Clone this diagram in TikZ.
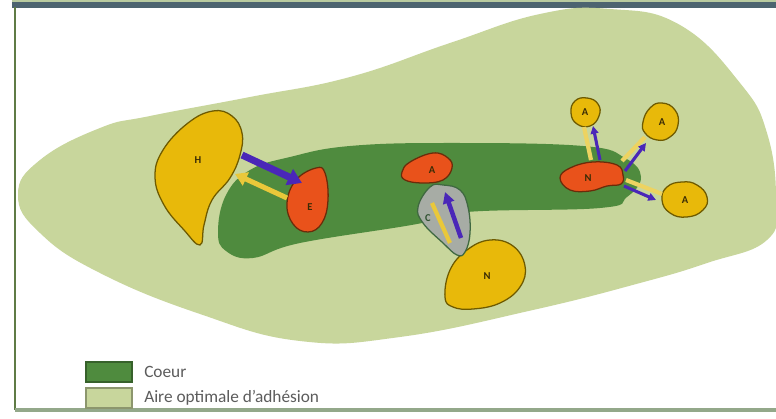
\documentclass[tikz,border=0pt]{standalone}
\usepackage{fontspec}
\setsansfont{Carlito}
\usetikzlibrary{arrows.meta,positioning}
\definecolor{ZoneGreen}{HTML}{C8D69C}
\definecolor{CoeurGreen}{HTML}{4F8B3E}
\definecolor{CoeurEdge}{HTML}{3E7030}
\definecolor{HostYellow}{HTML}{E8B90A}
\definecolor{HostEdge}{HTML}{6E5A00}
\definecolor{ActorOrange}{HTML}{E9521B}
\definecolor{ActorEdge}{HTML}{6A2C0A}
\definecolor{CarrierGray}{HTML}{A7ACA5}
\definecolor{CarrierEdge}{HTML}{3F6840}
\definecolor{PushPurple}{HTML}{4A27B8}
\definecolor{PullYellow}{HTML}{E9C83A}
\definecolor{FrameSlate}{HTML}{4D6470}
\definecolor{FrameStrip}{HTML}{B9CBA0}
\definecolor{FrameGreen}{HTML}{5F7B45}
\definecolor{FrameGray}{HTML}{93A88A}
\definecolor{LegendInk}{HTML}{5C5C5C}
\definecolor{LetterInk}{HTML}{3A2C05}

\begin{document}
\begin{tikzpicture}[x=0.025cm, y=-0.025cm, font=\sffamily, >=Latex,
  hostblob/.style={draw=HostEdge, line width=0.9pt, fill=HostYellow},
  actorblob/.style={draw=ActorEdge, line width=0.9pt, fill=ActorOrange},
  letter/.style={text=LetterInk, font=\sffamily\bfseries\fontsize{7.5}{8}\selectfont, inner sep=0pt},
  pushline/.style={draw=PushPurple, line width=#1},
  pullline/.style={draw=PullYellow, line width=#1},
  legendbox/.style={draw=#1!70!black, fill=#1, line width=0.8pt,
    minimum width=1.15cm, minimum height=0.5cm, inner sep=0pt},
  legendtext/.style={text=LegendInk, font=\sffamily\fontsize{12.3}{14}\selectfont,
    inner sep=1pt, anchor=west}]
  \useasboundingbox (0,0) rectangle (776,419);
  \fill[white] (0,0) rectangle (776,419);

  % Frame of the figure.
  \fill[FrameStrip] (12,0) rectangle (776,2.5);
  \fill[FrameSlate] (12,2.5) rectangle (776,8);
  \draw[FrameGreen, line width=1.4pt] (15,7) -- (15,410);
  \draw[FrameGray, line width=2.6pt] (15,410) -- (776,410);

  % Optimal adhesion area and its core.
  \fill[ZoneGreen] plot[smooth cycle, tension=0.75] coordinates {
    (18,195) (40,160) (100,128) (150,116) (250,97) (350,77) (450,43)
    (540,14) (610,9) (680,25) (740,83) (767,133) (776,200) (767,240)
    (707,263) (640,283) (533,310) (400,337) (300,341) (200,314)
    (100,273) (40,233)};
  \fill[CoeurGreen] plot[smooth cycle, tension=0.7] coordinates {
    (218,232) (226,195) (250,170) (290,157) (350,146) (450,143)
    (583,146) (625,158) (641,177) (627,197) (600,208) (467,212)
    (417,224) (300,243) (253,258) (226,251)};

  % Left pair.
  \draw[hostblob] plot[smooth cycle, tension=0.7] coordinates {
    (213,111) (232,116) (242,133) (240,155) (230,178) (212,200)
    (204,225) (200,245) (184,230) (164,205) (155,177) (163,150) (188,123)};
  \node[letter] (hostH) at (198,160) {H};
  \draw[actorblob] plot[smooth cycle, tension=0.7] coordinates {
    (287,203) (296,180) (316,168) (325,173) (328,200) (322,223)
    (308,232) (293,224)};
  \node[letter] (actorE) at (310,207) {E};
  \coordinate (hOut) at (242,155);
  \coordinate (eIn) at (302,183);
  \coordinate (eOut) at (287,198);
  \coordinate (hIn) at (235,174);
  \draw[pushline=5pt, -{Triangle[length=10pt, width=12pt]}] (hOut) -- (eIn);
  \draw[pullline=3.6pt, -{Triangle[length=8.5pt, width=10pt]}] (eOut) -- (hIn);

  % Middle chain.
  \draw[actorblob] plot[smooth cycle, tension=0.7] coordinates {
    (402,172) (410,162) (433,153) (448,158) (452,168) (443,180)
    (423,183) (405,180)};
  \node[letter] (actorA) at (432,170) {A};
  \draw[hostblob] plot[smooth cycle, tension=0.7] coordinates {
    (445,297) (450,270) (467,250) (490,240) (513,246) (525,266)
    (520,287) (500,303) (473,309) (453,307)};
  \node[letter] (hostN) at (487,276) {N};
  \draw[draw=CarrierEdge, line width=0.9pt, fill=CarrierGray]
    plot[smooth cycle, tension=0.7] coordinates {
    (418,207) (430,187) (443,185) (460,190) (468,207) (470,233)
    (465,252) (457,255) (443,243) (423,223)};
  \node[letter, text=CarrierEdge!80!black] (carrierC) at (428,218) {C};
  \coordinate (cTop) at (432,203);
  \coordinate (cBottom) at (450,243);
  \coordinate (cFoot) at (461,238);
  \coordinate (cHead) at (445,192);
  \draw[pullline=3pt] (cTop) -- (cBottom);
  \draw[pushline=3.2pt, -{Triangle[length=8pt, width=8pt]}] (cFoot) -- (cHead);

  % Right star.
  \draw[actorblob] plot[smooth cycle, tension=0.7] coordinates {
    (560,178) (570,168) (593,162) (617,165) (623,175) (621,184)
    (607,186) (590,191) (570,190)};
  \node[letter] (actorN) at (588,178) {N};
  \draw[hostblob] plot[smooth cycle, tension=0.8] coordinates {
    (571,113) (575,101) (587,98) (598,104) (599,116) (590,126) (577,124)};
  \node[letter] (hostA1) at (585,112) {A};
  \draw[hostblob] plot[smooth cycle, tension=0.8] coordinates {
    (643,122) (650,108) (662,103) (675,110) (678,125) (670,137)
    (657,140) (645,133)};
  \node[letter] (hostA2) at (662,122) {A};
  \draw[hostblob] plot[smooth cycle, tension=0.8] coordinates {
    (662,200) (667,187) (682,182) (697,185) (707,197) (703,210)
    (687,217) (670,213)};
  \node[letter] (hostA3) at (685,200) {A};
  \coordinate (a1Foot) at (584,127);
  \coordinate (a2Foot) at (645,137);
  \coordinate (a3Foot) at (662,194);
  \coordinate (nTopL) at (591,160);
  \coordinate (nTopR) at (622,161);
  \coordinate (nRight) at (626,180);
  \coordinate (nOut1) at (600,160);
  \coordinate (nOut2) at (625,171);
  \coordinate (nOut3) at (624,186);
  \coordinate (a1Head) at (593,126);
  \coordinate (a2Head) at (646,143);
  \coordinate (a3Head) at (656,200);
  \draw[pullline=3pt, PullYellow!80!white] (a1Foot) -- (nTopL);
  \draw[pullline=3pt, PullYellow!80!white] (a2Foot) -- (nTopR);
  \draw[pullline=3pt, PullYellow!80!white] (a3Foot) -- (nRight);
  \draw[pushline=2.2pt, -{Triangle[length=5.5pt, width=5.5pt]}] (nOut1) -- (a1Head);
  \draw[pushline=2.2pt, -{Triangle[length=5.5pt, width=5.5pt]}] (nOut2) -- (a2Head);
  \draw[pushline=2.2pt, -{Triangle[length=5.5pt, width=5.5pt]}] (nOut3) -- (a3Head);

  % Legend.
  \node[legendbox=CoeurGreen] (keyCoeur) at (109,372) {};
  \node[legendbox=ZoneGreen] (keyZone) at (109,398) {};
  \node[legendtext, right=2.5mm of keyCoeur.east] (textCoeur) {Coeur};
  \node[legendtext, right=2.5mm of keyZone.east] (textZone) {Aire optimale d'adhésion};
\end{tikzpicture}
\end{document}
